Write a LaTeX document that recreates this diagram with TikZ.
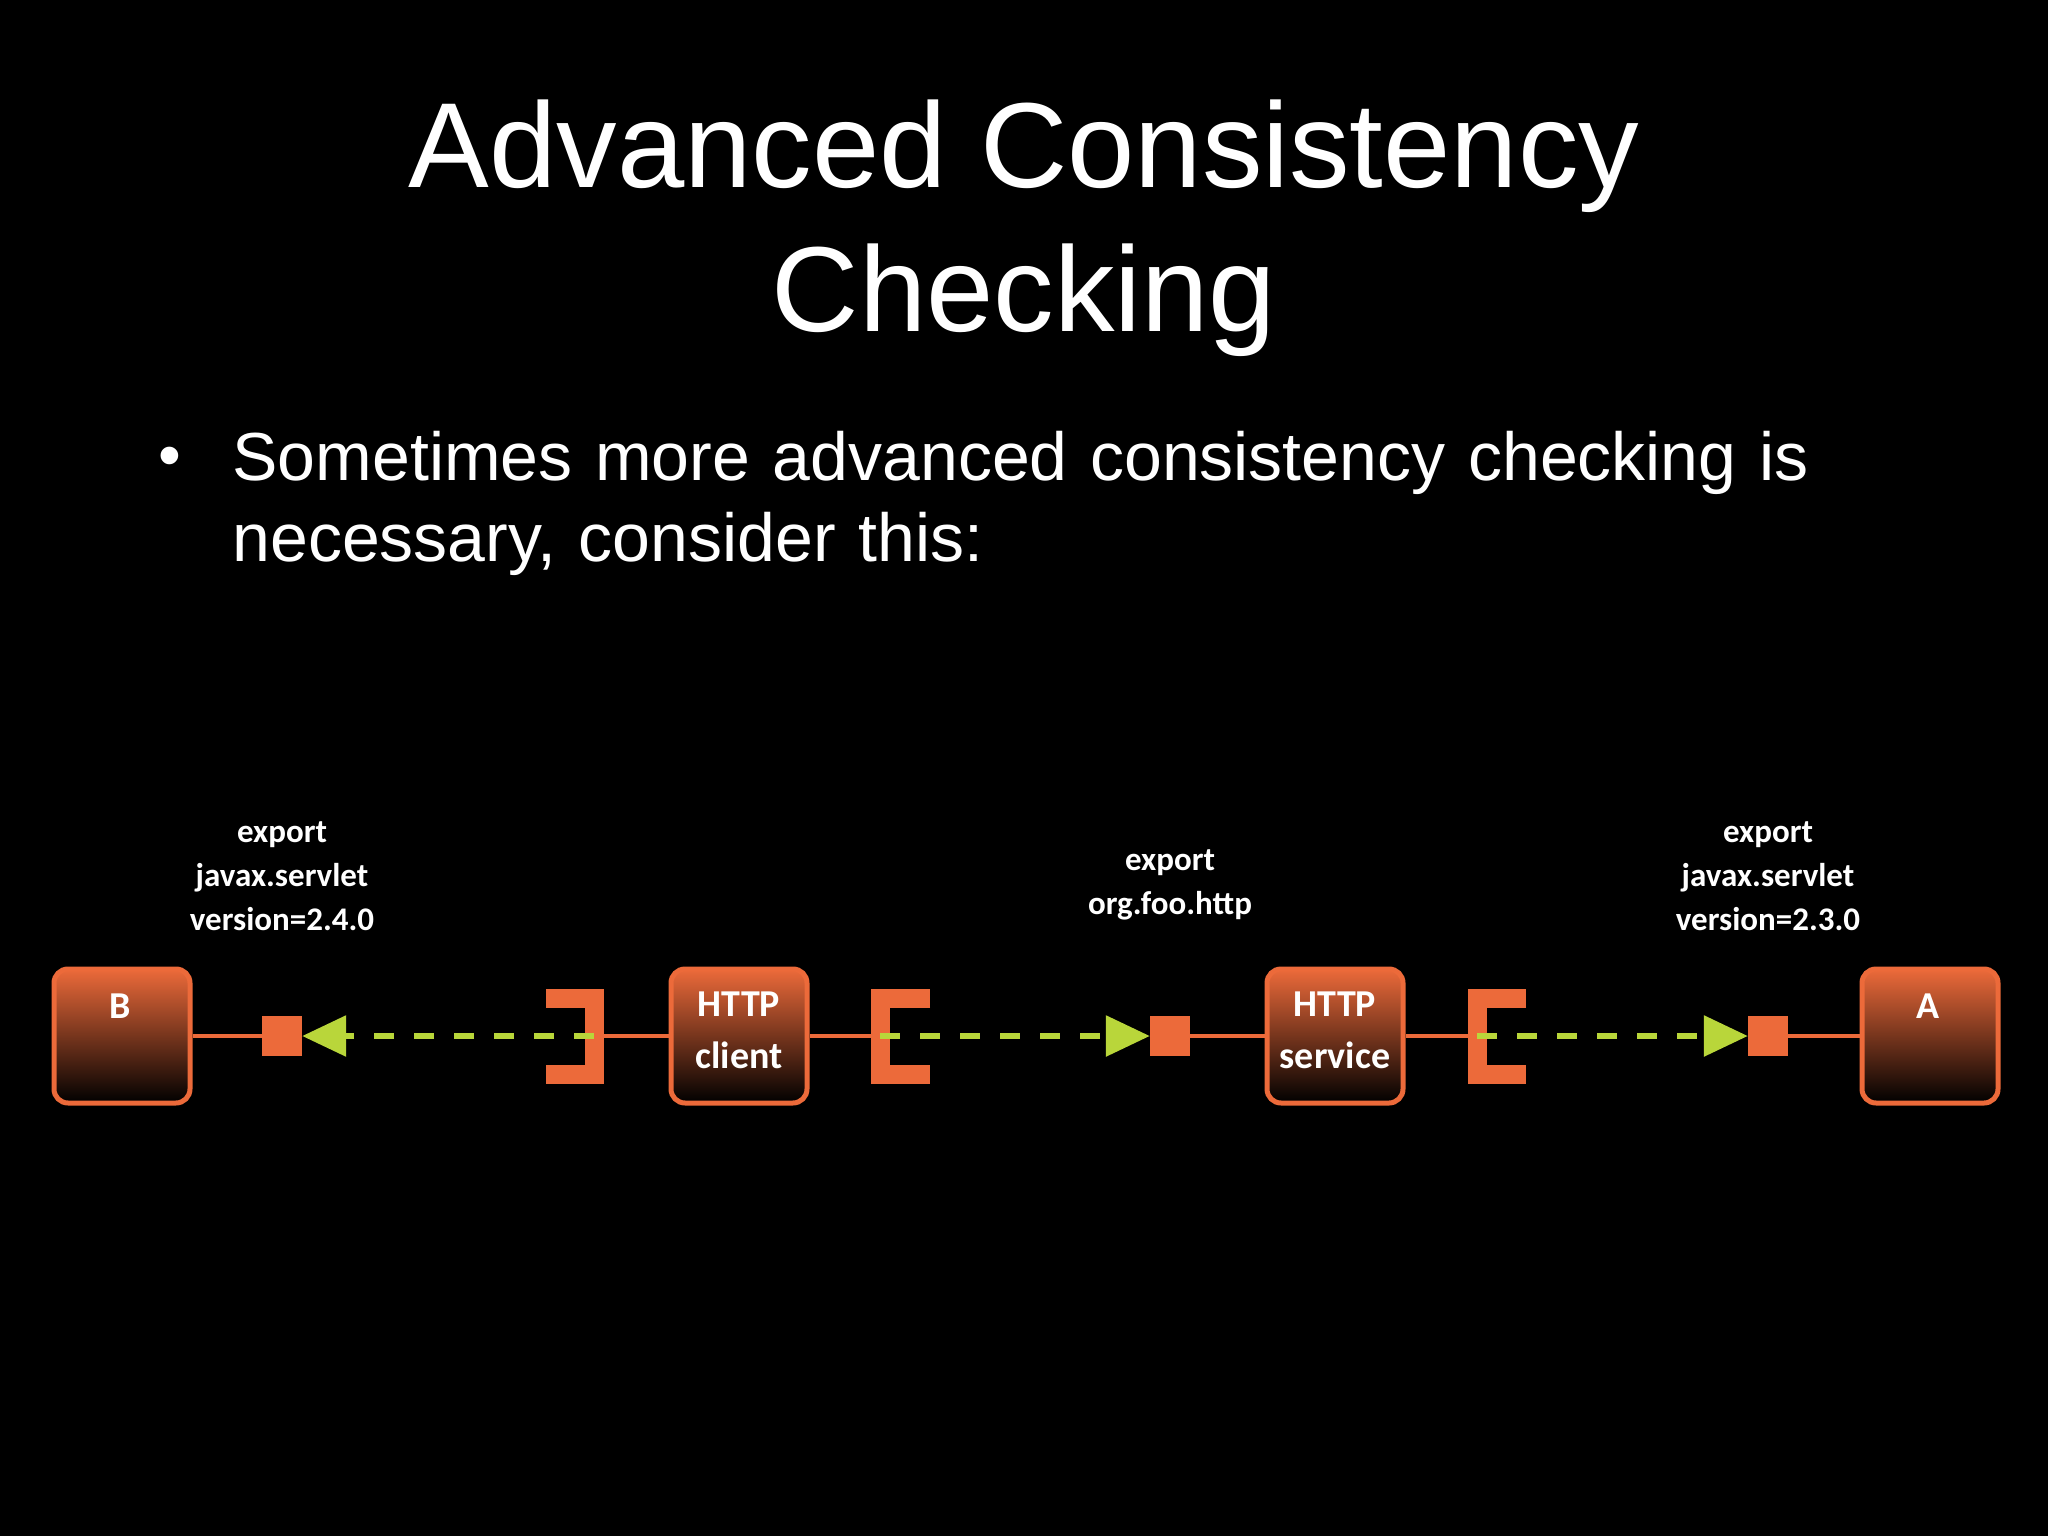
\documentclass[tikz,border=0pt]{standalone}
\usepackage{fontspec}
\setmainfont{Liberation Sans}
\newfontfamily\calfont{Carlito}
\usetikzlibrary{arrows.meta}
\definecolor{org}{HTML}{EC6A3A}
\definecolor{grn}{HTML}{B9D63A}
\begin{document}
\begin{tikzpicture}[x=1pt,y=-1pt,
  comp/.style={draw=org,line width=5pt,rounded corners=14pt,top color=org,bottom color=black,minimum width=136pt,minimum height=134pt,inner sep=0pt},
  port/.style={fill=org,minimum size=40pt,inner sep=0pt},
  wire/.style={org,line width=4pt},
  brk/.style={org,line width=19pt},
  dep/.style={grn,line width=6pt,dash pattern=on 20pt off 20pt,-{Triangle[length=44pt,width=40pt]}},
  lbl/.style={white,font=\calfont\bfseries\fontsize{33}{44}\selectfont,align=center},
  ctext/.style={white,font=\calfont\bfseries\fontsize{38}{52}\selectfont,align=center,anchor=north}]
\fill[black] (0,0) rectangle (2048,1536);
\node[white,font=\fontsize{121}{144}\selectfont,align=center] (title) at (1024,228) {Advanced Consistency\\Checking};
\node[white,font=\fontsize{68}{81}\selectfont,align=left,anchor=north west,text width=1750pt] (body) at (229,428) {\raggedright Sometimes more advanced consistency checking is\\necessary, consider this:};
\node[white,font=\fontsize{65}{81}\selectfont] (bul) at (170,462) {\textbullet};
% components
\node[comp] (B) at (122,1036) {};
\node[comp] (C) at (739,1036) {};
\node[comp] (S) at (1335,1036) {};
\node[comp] (A) at (1930,1036) {};
\node[ctext] (Bt) at (120,990) {B};
\node[ctext] (Ct) at (739,988) {HTTP\\client};
\node[ctext] (St) at (1335,988) {HTTP\\service};
\node[ctext] (At) at (1928,990) {A};
% ports
\node[port] (p1) at (282,1036) {};
\node[port] (p2) at (1170,1036) {};
\node[port] (p3) at (1768,1036) {};
% brackets
\coordinate (b1) at (594,1036);
\coordinate (b2) at (880,1036);
\coordinate (b3) at (1477,1036);
\draw[brk] (546,998) -- (594,998) -- (594,1074) -- (546,1074);
\draw[brk] (930,998) -- (880,998) -- (880,1074) -- (930,1074);
\draw[brk] (1526,998) -- (1477,998) -- (1477,1074) -- (1526,1074);
% wires
\draw[wire] (B.east) -- (p1.west);
\draw[wire] (b1) -- (C.west);
\draw[wire] (C.east) -- (b2);
\draw[wire] (p2.east) -- (S.west);
\draw[wire] (S.east) -- (b3);
\draw[wire] (p3.east) -- (A.west);
% dependencies
\draw[dep] (b1) -- (p1.east);
\draw[dep] (b2) -- (p2.west);
\draw[dep] (b3) -- (p3.west);
% labels
\node[lbl] (l1) at (282,876) {export\\javax.servlet\\version=2.4.0};
\node[lbl] (l2) at (1170,885) {export\\org.foo.http};
\node[lbl] (l3) at (1768,876) {export\\javax.servlet\\version=2.3.0};
\end{tikzpicture}
\end{document}
